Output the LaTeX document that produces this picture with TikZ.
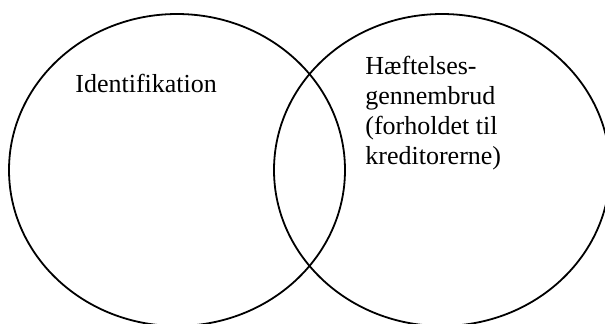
\documentclass[tikz,border=0pt]{standalone}
\usepackage{fontspec}
\setmainfont{Liberation Serif}
\usepackage{tikz}
\usetikzlibrary{shapes.geometric}

\begin{document}
\begin{tikzpicture}[x=0.5pt, y=-0.5pt, node distance=132.5pt, font=\fontsize{13pt}{15pt}\selectfont]
\tikzstyle{venn} = [draw, ellipse, line width=0.9pt, inner sep=0pt, minimum width=168pt, minimum height=156pt]
\tikzstyle{note} = [inner sep=0pt, align=left]

\useasboundingbox (0,0) rectangle (605,323);

    % the two sets
    \node [venn] (ident) at (177,170) {};
    \node [venn, right of = ident] (haeftelse) {};

    % their names
    \node [note, anchor=base west] (identtext) at (75,92) {Identifikation};
    \node [note, anchor=north west] (haefteltext) at (365,56) {Hæftelses-\\gennembrud\\(forholdet til\\kreditorerne)};

\end{tikzpicture}
\end{document}
